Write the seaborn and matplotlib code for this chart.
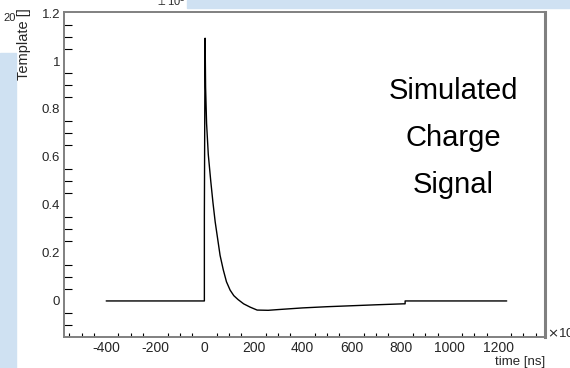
"""ROOT-style template pulse: simulated charge signal."""
import matplotlib

matplotlib.use("Agg")
import matplotlib.pyplot as plt
import pandas as pd
import seaborn as sns
from matplotlib.patches import Rectangle
from matplotlib.ticker import MultipleLocator

sns.set_theme(style="white")
plt.rcParams["font.family"] = ["Liberation Sans", "DejaVu Sans"]

# pulse template (time in ns, amplitude)
time_ns = [-400, 0, 0, 2, 3, 5, 9, 16, 26, 35, 44, 54, 64, 77, 90,
           105, 120, 137, 160, 187, 215, 260, 300, 400, 500, 600,
           700, 810, 818, 818, 1232]
template = [0.0, 0.0, 0.35, 0.88, 1.095, 0.89, 0.74, 0.61, 0.50, 0.41,
            0.33, 0.26, 0.19, 0.13, 0.08, 0.045, 0.022, 0.006, -0.012,
            -0.026, -0.038, -0.039, -0.036, -0.029, -0.024, -0.020,
            -0.016, -0.012, -0.012, 0.0, 0.0]

x_ticks = [-400, -200, 0, 200, 400, 600, 800, 1000, 1200]
y_ticks = [0, 0.2, 0.4, 0.6, 0.8, 1.0, 1.2]
y_tick_labels = ["0", "0.2", "0.4", "0.6", "0.8", "1", "1.2"]

W, H = 570, 368
fig = plt.figure(figsize=(W / 100, H / 100), dpi=100)
fig.patch.set_facecolor("white")

# slide background bits around the pasted plot
blue = "#cfe1f2"
fig.patches.append(Rectangle((0, 0), 16 / W, 1 - 53 / H, transform=fig.transFigure,
                             color=blue, zorder=0))
fig.patches.append(Rectangle((187 / W, 1 - 8 / H), 1, 8 / H, transform=fig.transFigure,
                             color=blue, zorder=0))

ax = fig.add_axes([63.5 / W, 1 - 336.7 / H, (545 - 63.5) / W, (336.7 - 12.3) / H])

df = pd.DataFrame({"time": time_ns, "template": template})
sns.lineplot(data=df, x="time", y="template", ax=ax, estimator=None, sort=False,
             color="black", linewidth=1.0)

ax.set_xlim(-574, 1388)
ax.set_ylim(-0.149, 1.203)
ax.set_xticks(x_ticks)
ax.set_xticklabels([str(v) for v in x_ticks])
ax.set_yticks(y_ticks)
ax.set_yticklabels(y_tick_labels)
ax.xaxis.set_minor_locator(MultipleLocator(50))
ax.yaxis.set_minor_locator(MultipleLocator(0.05))
ax.tick_params(axis="x", which="major", direction="in", length=6.5, width=0.8,
               color="black", labelsize=10, pad=3)
ax.tick_params(axis="x", which="minor", direction="in", length=3.2, width=0.8,
               color="black", bottom=True)
ax.tick_params(axis="y", which="major", direction="in", length=10.8, width=0.8,
               color="black", labelsize=9.5, pad=2.5)
ax.tick_params(axis="y", which="minor", direction="in", length=5.5, width=0.8,
               color="black", left=True)
ax.set_xlabel("")
ax.set_ylabel("")

for side in ["left", "bottom", "top"]:
    ax.spines[side].set_color("#808080")
    ax.spines[side].set_linewidth(1.4)
ax.spines["right"].set_color("#808080")
ax.spines["right"].set_linewidth(2.2)

fig.text(545 / W, 1 - 362 / H, "time [ns]", ha="right", va="center", fontsize=9.5)
fig.text(24 / W, 1 - 8 / H, "Template []", rotation=90, ha="center", va="top",
         fontsize=10.5)
fig.text(547 / W, 1 - 333 / H, r"$\times$10$^{3}$", ha="left", va="center",
         fontsize=9.5)

# leftovers of a neighbouring plot at the slide edges
fig.text(3 / W, 1 - 18 / H, "20", ha="left", va="center", fontsize=8)
fig.text(155 / W, 1 - 1 / H, r"$\perp$10$^{3}$", ha="left", va="center", fontsize=8)

fig.text(453 / W, 1 - 138 / H, "Simulated\nCharge\nSignal", ha="center",
         va="center", fontsize=21, linespacing=1.85, color="black")

fig.savefig("out.png", dpi=100)
